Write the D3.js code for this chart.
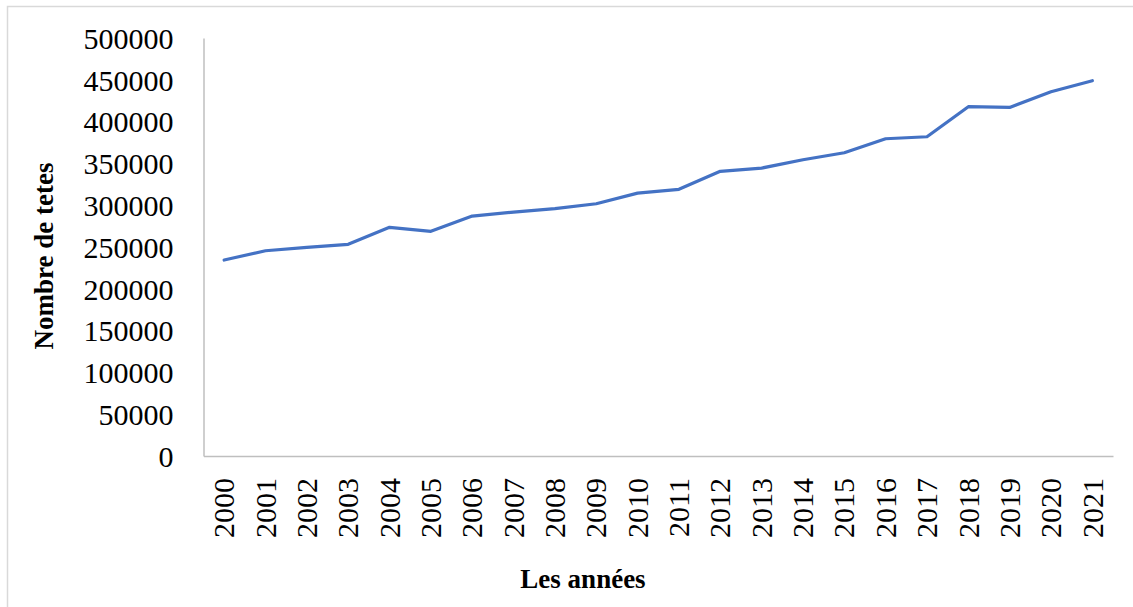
<!DOCTYPE html>
<html>
<head>
<meta charset="utf-8">
<script src="https://cdn.jsdelivr.net/npm/d3@7"></script>
<style>
  html, body { margin: 0; padding: 0; background: #fff; }
  svg { display: block; }
</style>
</head>
<body>
<script>
const years = ["2000","2001","2002","2003","2004","2005","2006","2007","2008","2009","2010",
               "2011","2012","2013","2014","2015","2016","2017","2018","2019","2020","2021"];
const values = [234400, 245500, 249600, 253200, 273500, 268700, 287000, 291800, 295800, 301700, 314500,
                319000, 340500, 344400, 354400, 362700, 379500, 381900, 417800, 417000, 435700, 448900];
const yTicks = [0, 50000, 100000, 150000, 200000, 250000, 300000, 350000, 400000, 450000, 500000];
const yTitle = "Nombre de tetes";
const xTitle = "Les années";

(function () {
const W = 1133, H = 607;
const svg = d3.select("body").append("svg").attr("width", W).attr("height", H);

// outer chart border
svg.append("rect")
  .attr("x", 7.5).attr("y", 6.5)
  .attr("width", W + 10).attr("height", H + 10)
  .attr("fill", "none").attr("stroke", "#d9d9d9").attr("stroke-width", 1.5);

const pLeft = 203.5, pRight = 1113, pTop = 38, pBottom = 456;

const x = d3.scaleBand().domain(years).range([pLeft, pRight]).padding(0);
const y = d3.scaleLinear().domain([0, 500000]).range([pBottom, pTop]);

const font = "'Liberation Serif', 'Times New Roman', serif";

// Y axis
const yAxis = svg.append("g")
  .attr("transform", `translate(${pLeft},0)`)
  .call(d3.axisLeft(y).tickValues(yTicks).tickSize(0).tickPadding(30).tickFormat(d3.format("d")));
yAxis.select(".domain").attr("stroke", "#bfbfbf").attr("stroke-width", 1.5);
yAxis.selectAll("text")
  .style("font-family", font).style("font-size", "30px").attr("fill", "#000")
  .attr("dy", "0.34em");

// X axis
const xAxis = svg.append("g")
  .attr("transform", `translate(0,${pBottom})`)
  .call(d3.axisBottom(x).tickSize(0).tickPadding(0));
xAxis.select(".domain").attr("stroke", "#bfbfbf").attr("stroke-width", 1.5);
xAxis.selectAll("text")
  .style("font-family", font).style("font-size", "30px").attr("fill", "#000")
  .attr("text-anchor", "end")
  .attr("dy", "0.34em")
  .attr("y", 0)
  .attr("transform", "translate(0,22) rotate(-90)");

// Line
const line = d3.line()
  .x((d, i) => x(years[i]) + x.bandwidth() / 2)
  .y(d => y(d));

svg.append("path")
  .datum(values)
  .attr("d", line)
  .attr("fill", "none")
  .attr("stroke", "#4472c4")
  .attr("stroke-width", 3.2)
  .attr("stroke-linejoin", "round")
  .attr("stroke-linecap", "round");

// Axis titles
svg.append("text")
  .attr("transform", `translate(53,256) rotate(-90)`)
  .attr("text-anchor", "middle")
  .style("font-family", font).style("font-size", "27px").style("font-weight", "bold")
  .text(yTitle);

svg.append("text")
  .attr("x", 583).attr("y", 588)
  .attr("text-anchor", "middle")
  .style("font-family", font).style("font-size", "27px").style("font-weight", "bold")
  .text(xTitle);
})();
</script>
</body>
</html>
